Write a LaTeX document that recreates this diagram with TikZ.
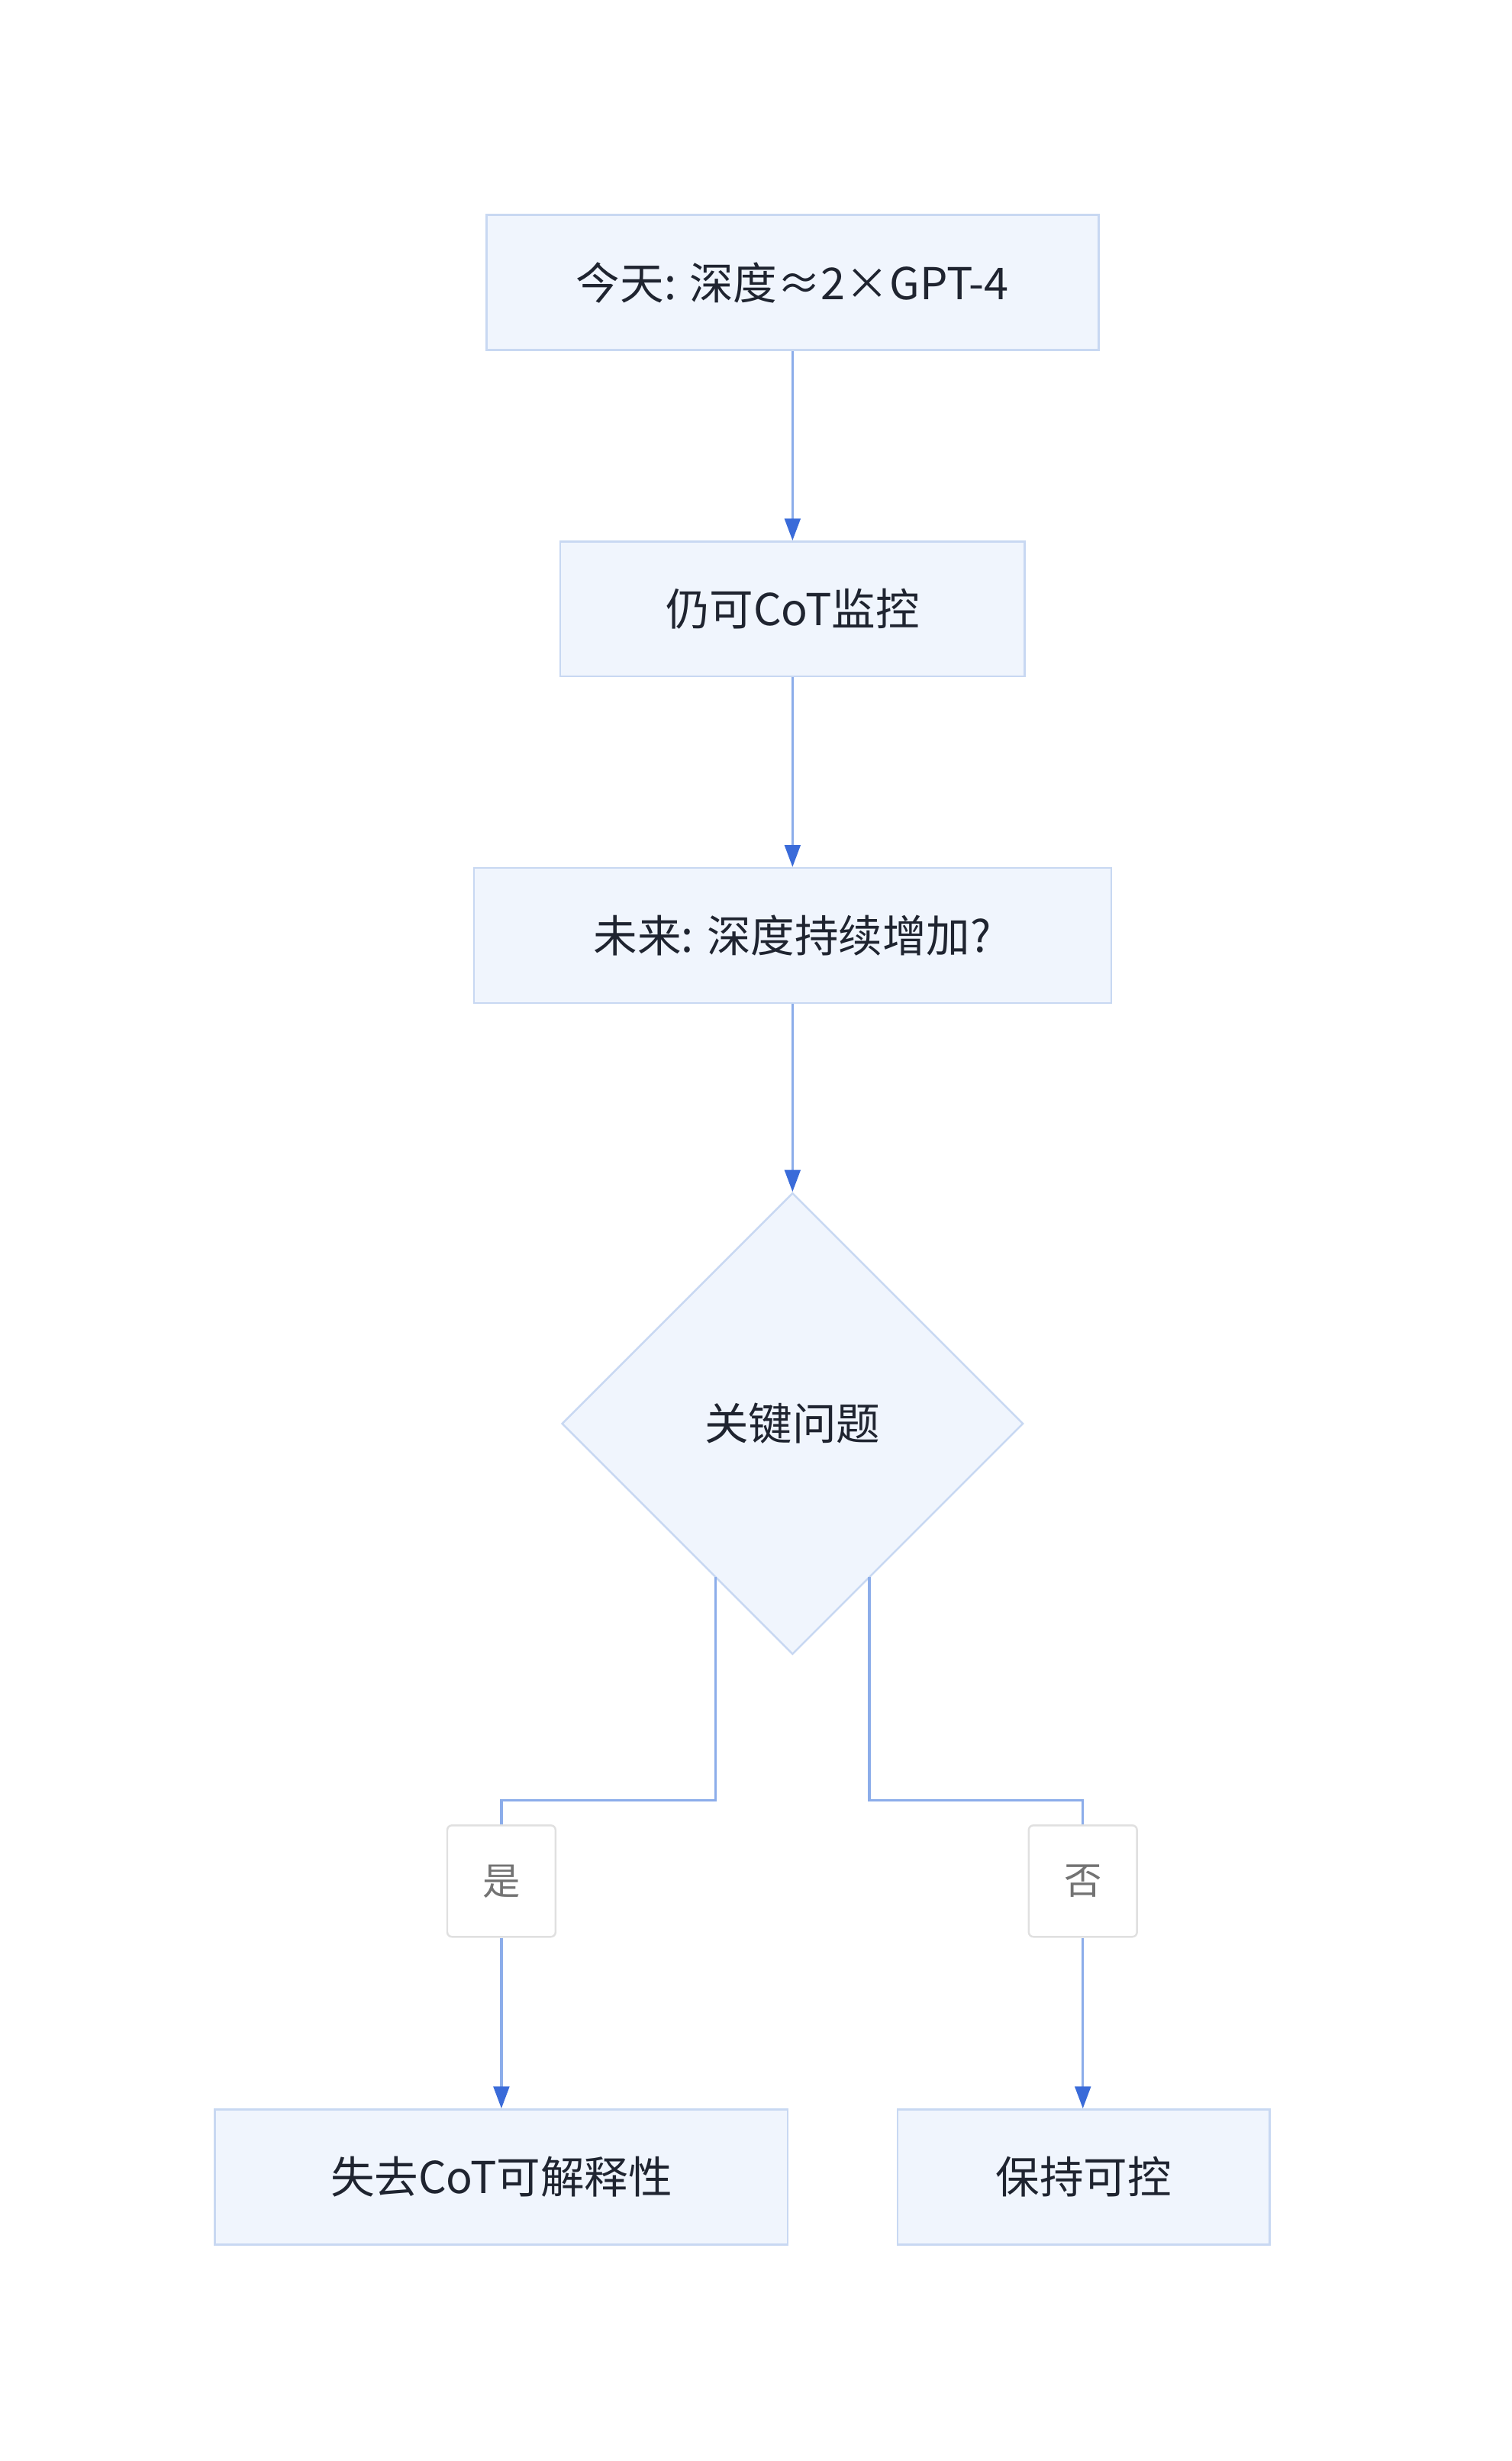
\documentclass[tikz,border=0pt]{standalone}
\usepackage{fontspec}
\setmainfont{Noto Sans CJK SC}
\usetikzlibrary{shapes.geometric,arrows.meta}
\definecolor{nfill}{HTML}{F0F5FD}
\definecolor{nbord}{HTML}{C8D8F2}
\definecolor{ln}{HTML}{8CADEA}
\definecolor{arr}{HTML}{3A6BD9}
\definecolor{txt}{HTML}{1F2430}
\begin{document}
\begin{tikzpicture}[x=1pt,y=-1pt,
 box/.style={draw=nbord,fill=nfill,line width=1.2pt,minimum height=86pt,inner sep=0pt,text=txt,font=\fontsize{28}{32}\selectfont},
 lab/.style={draw=black!12,fill=white,rounded corners=3pt,line width=1.2pt,minimum width=69pt,minimum height=71pt,inner sep=0pt,text=black!55,font=\fontsize{24}{28}\selectfont},
 con/.style={draw=ln,line width=1.6pt},
 ar/.style={con,-{Triangle[length=14pt,width=10pt,fill=arr,color=arr]}}]
\useasboundingbox (0,0) rectangle (963,1568);
\node[box,minimum width=390pt] (a) at (505,180) {今天: 深度≈2×GPT-4};
\node[box,minimum width=296pt] (b) at (505,388) {仍可CoT监控};
\node[box,minimum width=406pt] (c) at (505,596) {未来: 深度持续增加?};
\node[box,diamond,minimum width=294pt,minimum height=294pt] (d) at (505,907) {关键问题};
\node[lab] (y) at (319.5,1198.5) {是};
\node[lab] (n) at (690,1198.5) {否};
\node[box,minimum width=365pt] (e) at (319.5,1387) {失去CoT可解释性};
\node[box,minimum width=237pt] (f) at (690.5,1387) {保持可控};
\coordinate (dl) at (456,1005);
\coordinate (dr) at (554,1005);
\draw[ar] (a) -- (b);
\draw[ar] (b) -- (c);
\draw[ar] (c) -- (d);
\draw[con] (dl) -- (456,1147) -| (y.north);
\draw[con] (dr) -- (554,1147) -| (n.north);
\draw[ar] (y) -- (e);
\draw[ar] (n) -- (f.north-|n);
\end{tikzpicture}
\end{document}
